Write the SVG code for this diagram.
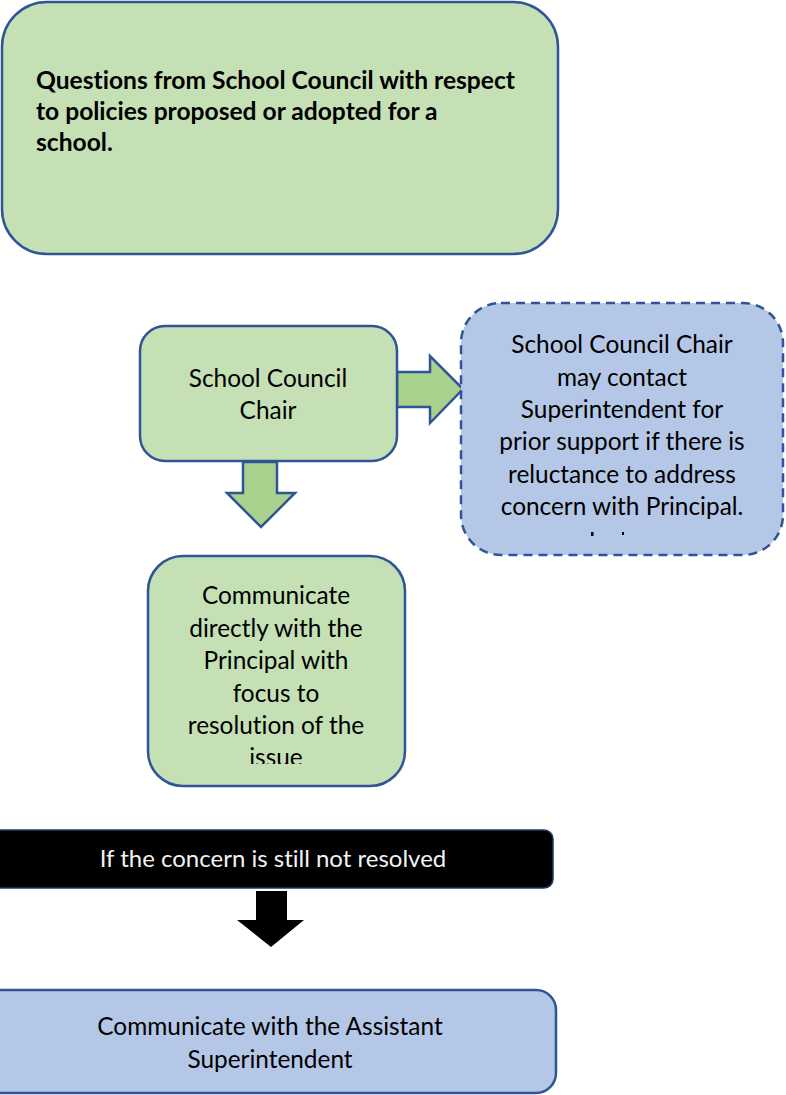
<svg xmlns="http://www.w3.org/2000/svg" width="786" height="1095" viewBox="0 0 786 1095">
<style>
text{font-variant-ligatures:none}
.g{fill:#C5E0B4;stroke:#2F5597;stroke-width:2.5}
.b{fill:#B4C7E7;stroke:#2F5597;stroke-width:2.5}
.d{fill:#B4C7E7;stroke:#2F5597;stroke-width:2.5;stroke-dasharray:9 6}
.ar{fill:#A9D18E;stroke:#2F5597;stroke-width:2.5;stroke-linejoin:miter}
.t{font-family:Lato,"Liberation Sans",sans-serif;font-size:24.4px;fill:#000;text-anchor:middle}
.tb{font-family:Lato,"Liberation Sans",sans-serif;font-size:24.6px;font-weight:bold;fill:#000}
.tw{font-family:Lato,"Liberation Sans",sans-serif;font-size:24px;fill:#F2F2F2;text-anchor:middle}
</style>
<defs>
<clipPath id="c1"><rect x="148" y="556" width="257" height="208"/></clipPath>
<clipPath id="c2"><rect x="461" y="303" width="322" height="234"/></clipPath>
</defs>
<g id="connectors">
<polygon class="ar" points="397,372 430,372 430,356 463,389 430,423 430,407 397,407"/>
<polygon class="ar" points="243,462 277,462 277,493 295,493 261,527 227,493 243,493"/>
<polygon fill="#000" points="256,891 287,891 287,920 304,920 271,947 237,920 256,920"/>
</g>
<g id="n-questions">
<rect class="g" x="2" y="2" width="556" height="252" rx="45"/>
<text class="tb" x="36" y="89">Questions from School Council with respect</text>
<text class="tb" x="36" y="120">to policies proposed or adopted for a</text>
<text class="tb" x="36" y="151">school.</text>
</g>
<g id="n-chair">
<rect class="g" x="140" y="326" width="257" height="135" rx="25"/>
<text class="t" x="268" y="387">School Council</text>
<text class="t" x="268" y="419">Chair</text>
</g>
<g id="n-super">
<rect class="d" x="461" y="303" width="322" height="252" rx="40"/>
<g clip-path="url(#c2)">
<text class="t" x="622" y="353">School Council Chair</text>
<text class="t" x="622" y="386">may contact</text>
<text class="t" x="622" y="418">Superintendent for</text>
<text class="t" x="622" y="450">prior support if there is</text>
<text class="t" x="622" y="483">reluctance to address</text>
<text class="t" x="622" y="515">concern with Principal.</text>
</g>
<rect x="591" y="532" width="2.5" height="4" fill="#000"/>
<rect x="622" y="532" width="2" height="3" fill="#000"/>
</g>
<g id="n-principal">
<rect class="g" x="148" y="556" width="257" height="230" rx="35"/>
<g clip-path="url(#c1)">
<text class="t" x="276" y="604">Communicate</text>
<text class="t" x="276" y="637">directly with the</text>
<text class="t" x="276" y="669">Principal with</text>
<text class="t" x="276" y="702">focus to</text>
<text class="t" x="276" y="734">resolution of the</text>
<text class="t" x="276" y="766">issue</text>
</g>
</g>
<g id="n-notresolved">
<rect x="-12" y="830" width="565" height="58" rx="9" fill="#000" stroke="#1F3864" stroke-width="1.5"/>
<text class="tw" x="273" y="867">If the concern is still not resolved</text>
</g>
<g id="n-assistant">
<rect class="b" x="-20" y="990" width="576" height="103" rx="20"/>
<text class="t" x="270" y="1035">Communicate with the Assistant</text>
<text class="t" x="270" y="1068">Superintendent</text>
</g>
</svg>
